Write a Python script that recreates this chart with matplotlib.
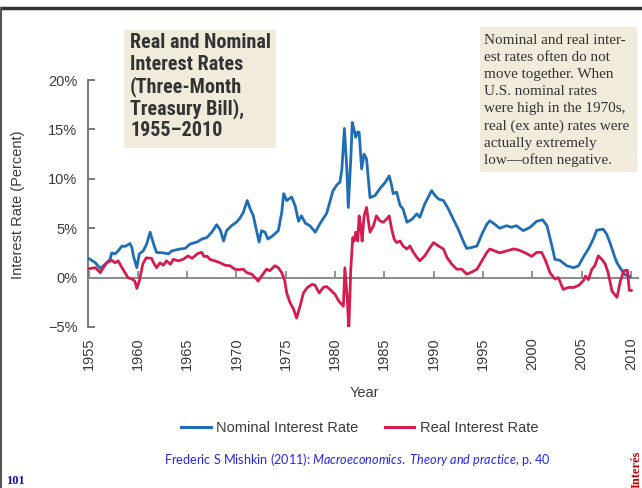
import matplotlib
matplotlib.use("Agg")
import matplotlib.pyplot as plt
from matplotlib.lines import Line2D
from matplotlib.patches import Rectangle
from matplotlib import font_manager
from matplotlib.font_manager import FontProperties

# ---------------- data ----------------
nominal_years = [1955.0, 1955.66, 1956.2, 1956.7, 1957.2, 1957.35, 1957.7, 1958.0, 1958.4, 1958.7,
                 1959.2, 1959.4, 1959.55, 1959.9, 1960.15, 1960.55, 1960.9, 1961.25, 1961.6, 1961.9,
                 1962.6, 1963.1, 1963.45, 1964.3, 1964.8, 1965.3, 1966.0, 1966.5, 1967.0, 1967.5,
                 1968.0, 1968.35, 1968.7, 1969.0, 1969.5, 1970.0, 1970.35, 1970.7, 1971.1, 1971.4,
                 1971.7, 1972.05, 1972.3, 1972.55, 1972.9, 1973.2, 1973.7, 1974.25, 1974.6, 1974.8,
                 1975.1, 1975.6, 1975.95, 1976.3, 1976.6, 1977.0, 1977.45, 1978.0, 1978.5, 1979.15,
                 1979.8, 1980.2, 1980.5, 1980.7, 1980.95, 1981.2, 1981.35, 1981.6, 1981.75, 1981.95,
                 1982.1, 1982.3, 1982.45, 1982.7, 1982.95, 1983.2, 1983.55, 1984.05, 1984.55, 1985.1,
                 1985.5, 1985.75, 1985.9, 1986.25, 1986.6, 1986.9, 1987.3, 1987.8, 1988.3, 1988.6,
                 1989.1, 1989.8, 1990.15, 1990.5, 1991.0, 1991.5, 1992.0, 1992.5, 1993.0, 1993.35,
                 1993.85, 1994.4, 1994.9, 1995.4, 1995.7, 1996.2, 1996.7, 1997.4, 1997.9, 1998.4,
                 1999.1, 1999.8, 2000.45, 2001.05, 2001.5, 2002.0, 2002.3, 2002.8, 2003.5, 2004.2,
                 2004.7, 2005.2, 2005.7, 2006.2, 2006.55, 2007.2, 2007.55, 2007.9, 2008.4, 2008.6,
                 2009.1, 2009.4, 2009.9]
nominal_rate = [1.95, 1.53, 0.92, 1.36, 1.87, 2.5, 2.4, 2.7, 3.2, 3.15,
                3.45, 3.05, 2.2, 1.0, 2.4, 2.7, 3.4, 4.6, 3.4, 2.55,
                2.5, 2.4, 2.7, 2.9, 2.95, 3.4, 3.6, 3.9, 4.05, 4.6,
                5.35, 4.85, 3.7, 4.75, 5.25, 5.6, 6.0, 6.6, 7.8, 6.95,
                6.3, 4.75, 3.6, 4.75, 4.6, 3.9, 4.25, 4.75, 6.6, 8.5,
                7.8, 8.15, 7.3, 5.7, 6.25, 5.5, 5.25, 4.6, 5.5, 6.5,
                8.8, 9.4, 9.65, 11.0, 15.1, 11.0, 7.1, 12.0, 15.7, 14.9,
                14.2, 14.75, 14.7, 11.0, 12.5, 12.0, 8.1, 8.3, 9.0, 9.65,
                10.3, 9.3, 8.5, 8.65, 7.3, 6.95, 5.6, 5.9, 6.45, 6.1,
                7.45, 8.8, 8.3, 7.95, 7.8, 6.95, 5.9, 4.9, 3.7, 2.95,
                3.05, 3.2, 4.4, 5.4, 5.75, 5.4, 5.0, 5.25, 5.1, 5.25,
                4.75, 5.1, 5.7, 5.85, 5.25, 3.2, 1.85, 1.75, 1.2, 1.0,
                1.2, 2.1, 2.9, 3.9, 4.8, 4.9, 4.4, 3.5, 2.0, 1.5,
                0.7, 0.3, 0.1]

real_years = [1955.0, 1955.7, 1956.2, 1956.5, 1956.85, 1957.35, 1957.7, 1958.0, 1958.4, 1958.7,
              1959.0, 1959.4, 1959.7, 1959.9, 1960.15, 1960.5, 1960.85, 1961.4, 1961.6, 1961.9,
              1962.25, 1962.6, 1962.9, 1963.3, 1963.6, 1964.1, 1964.6, 1965.1, 1965.5, 1965.8,
              1966.1, 1966.5, 1966.7, 1967.05, 1967.3, 1967.8, 1968.35, 1968.85, 1969.35, 1969.85,
              1970.2, 1970.7, 1971.05, 1971.55, 1971.9, 1972.2, 1972.55, 1973.05, 1973.4, 1973.9,
              1974.25, 1974.6, 1974.9, 1975.1, 1975.45, 1975.8, 1976.1, 1976.45, 1976.8, 1977.2,
              1977.65, 1977.95, 1978.4, 1978.8, 1979.15, 1979.6, 1980.0, 1980.4, 1980.85, 1981.0,
              1981.25, 1981.4, 1981.6, 1981.8, 1981.95, 1982.1, 1982.3, 1982.45, 1982.6, 1982.75,
              1982.95, 1983.2, 1983.35, 1983.55, 1983.9, 1984.2, 1984.55, 1984.9, 1985.25, 1985.5,
              1985.75, 1986.0, 1986.25, 1986.6, 1986.9, 1987.3, 1987.6, 1987.95, 1988.3, 1988.6,
              1989.1, 1989.65, 1990.0, 1990.5, 1991.0, 1991.35, 1991.85, 1992.35, 1992.85, 1993.35,
              1993.85, 1994.4, 1994.9, 1995.4, 1995.7, 1996.2, 1996.7, 1997.4, 1998.1, 1998.6,
              1999.3, 1999.95, 2000.45, 2000.95, 2001.3, 2001.8, 2002.3, 2002.65, 2003.15, 2003.65,
              2004.2, 2004.7, 2005.2, 2005.4, 2005.7, 2006.05, 2006.35, 2006.7, 2007.05, 2007.4,
              2007.7, 2008.1, 2008.6, 2008.95, 2009.3, 2009.65, 2009.85, 2010.05]
real_rate = [0.9, 1.0, 0.5, 1.0, 1.5, 1.75, 1.5, 1.7, 1.0, 0.5,
             0.0, -0.15, -0.35, -1.1, -0.35, 1.35, 2.0, 1.95, 1.5, 1.0,
             1.5, 1.25, 1.7, 1.35, 1.85, 1.7, 1.85, 2.2, 1.95, 2.2,
             2.45, 2.55, 2.15, 2.15, 1.85, 1.7, 1.5, 1.25, 1.2, 0.85,
             0.8, 0.85, 0.5, 0.35, 0.0, -0.35, 0.15, 0.85, 0.7, 1.2,
             1.0, 0.5, -0.3, -1.55, -2.55, -3.2, -4.1, -2.9, -1.55, -1.0,
             -0.7, -0.75, -1.55, -1.0, -0.9, -1.3, -1.7, -2.4, -2.9, 1.0,
             -2.2, -5.3, 0.85, 4.05, 3.7, 4.6, 3.7, 6.25, 5.25, 3.7,
             6.25, 7.1, 5.95, 4.6, 5.25, 6.25, 5.75, 5.6, 5.95, 6.25,
             4.9, 3.9, 3.55, 3.7, 3.2, 2.9, 3.2, 2.55, 2.05, 1.7,
             2.2, 3.05, 3.55, 3.2, 2.9, 2.05, 1.35, 0.85, 0.85, 0.35,
             0.55, 0.85, 1.7, 2.55, 2.9, 2.7, 2.5, 2.7, 2.9, 2.8,
             2.5, 2.15, 2.55, 2.55, 1.85, 0.5, -0.15, 0.0, -1.2, -1.0,
             -1.0, -0.8, -0.3, 0.15, -0.2, 0.85, 1.2, 2.2, 1.85, 1.4,
             0.5, -1.4, -2.0, -0.3, 0.7, 0.75, -1.3, -1.3]

year_ticks = [1955, 1960, 1965, 1970, 1975, 1980, 1985, 1990, 1995, 2000, 2005, 2010]
rate_ticks = [-5, 0, 5, 10, 15, 20]
rate_tick_labels = ["\u22125%", "0%", "5%", "10%", "15%", "20%"]

series_labels = ["Nominal Interest Rate", "Real Interest Rate"]
title_lines = ["Real and Nominal", "Interest Rates", "(Three-Month", "Treasury Bill),", "1955\u20132010"]
note_lines = ["Nominal and real inter-", "est rates often do not", "move together. When",
              "U.S. nominal rates", "were high in the 1970s,", "real (ex ante) rates were",
              "actually extremely", "low\u2014often negative."]

# ---------------- styling ----------------
W, H = 642, 488
BLUE = "#1f6db4"
RED = "#d41c4f"
TXT = "#3a3a3a"
AXC = "#6e6e6e"

ttf = font_manager.fontManager.ttflist
avail = {f.name for f in ttf}
SANS = "Liberation Sans" if "Liberation Sans" in avail else "DejaVu Sans"
SERIF = "Liberation Serif" if "Liberation Serif" in avail else "DejaVu Serif"
CITE = "Lato" if "Lato" in avail else SANS


def find_condensed_bold():
    def is_bold(f):
        w = f.weight
        if isinstance(w, str):
            return w in ("bold", "heavy", "black", "semibold", "demibold", "extra bold")
        return w >= 600
    prefs = ["Liberation Sans Narrow", "Roboto Condensed", "Open Sans Condensed", "Noto Sans Condensed",
             "DejaVu Sans Condensed", "DejaVu Sans"]
    for name in prefs:
        for f in ttf:
            if f.name == name and is_bold(f) and f.style == "normal":
                if name in ("DejaVu Sans",) and "ondensed" not in f.fname:
                    continue
                return FontProperties(fname=f.fname)
    for f in ttf:
        fn = f.fname.lower()
        if ("condensed" in fn or "narrow" in fn) and is_bold(f) and f.style == "normal" \
                and "serif" not in fn and "mono" not in fn:
            return FontProperties(fname=f.fname)
    return None


COND = find_condensed_bold()

plt.rcParams["font.family"] = [SANS, "DejaVu Sans"]
plt.rcParams["mathtext.fontset"] = "custom"
plt.rcParams["mathtext.it"] = CITE + ":italic"
plt.rcParams["mathtext.rm"] = CITE

fig = plt.figure(figsize=(W / 100, H / 100), dpi=100)


def fx(px):
    return px / W


def fy(py):
    return 1 - py / H


x0, x1 = 88.5, 638.0
y_top, y_bot = 80.0, 327.0
ax = fig.add_axes([fx(x0), fy(y_bot), (x1 - x0) / W, (y_bot - y_top) / H])
ax.set_xlim(1955, 1955 + (x1 - x0) / 9.86)
ax.set_ylim(-5, 20)
ax.patch.set_alpha(0)

ax.plot(nominal_years, nominal_rate, color=BLUE, lw=2.0, solid_joinstyle="round", label=series_labels[0], zorder=3)
ax.plot(real_years, real_rate, color=RED, lw=2.0, solid_joinstyle="round", label=series_labels[1], zorder=3)

for s in ["top", "right"]:
    ax.spines[s].set_visible(False)
ax.spines["bottom"].set_position(("data", 0))
ax.spines["bottom"].set_color("#8a8a8a")
ax.spines["bottom"].set_linewidth(1.4)
ax.spines["left"].set_color(AXC)
ax.spines["left"].set_linewidth(1.3)

ax.set_xticks(year_ticks)
ax.set_xticklabels([str(y) for y in year_ticks], rotation=90, fontsize=10.5, color=TXT, va="top")
ax.tick_params(axis="x", direction="in", length=5, width=1.3, color="#8a8a8a", pad=43)
ax.set_yticks(rate_ticks)
ax.set_yticklabels(rate_tick_labels, fontsize=10.5, color=TXT)
ax.tick_params(axis="y", direction="in", length=5, width=1.3, color=AXC, pad=8)

fig.text(fx(18), fy(205), "Interest Rate (Percent)", rotation=90, ha="center", va="center",
         fontsize=10.5, color=TXT)
fig.text(fx(364), fy(393), "Year", ha="center", va="center", fontsize=10.5, color=TXT)

handles = [Line2D([], [], color=BLUE, lw=2.2), Line2D([], [], color=RED, lw=2.2)]
leg = fig.legend(handles, series_labels, loc="center", bbox_to_anchor=(fx(360), fy(428)), ncol=2,
                 frameon=False, fontsize=10.5, handlelength=2.0, columnspacing=1.8, handletextpad=0.4)
for t in leg.get_texts():
    t.set_color(TXT)

# title box
fig.patches.append(Rectangle((fx(124), fy(148)), (276 - 124) / W, (148 - 30) / H,
                             transform=fig.transFigure, facecolor="#f1ebdc", edgecolor="none", zorder=4))
for i, line in enumerate(title_lines):
    if COND is not None:
        fp = COND.copy()
        fp.set_size(14.5)
        fig.text(fx(130), fy(43 + 22 * i), line, ha="left", va="center", fontproperties=fp,
                 color="#333333", zorder=5)
    else:
        fig.text(fx(130), fy(43 + 22 * i), line, ha="left", va="center", fontsize=12.2,
                 fontweight="bold", family=[SANS, "DejaVu Sans"], color="#333333", zorder=5)

# note box
fig.patches.append(Rectangle((fx(480), fy(172)), (637 - 480) / W, (172 - 27) / H,
                             transform=fig.transFigure, facecolor="#f1ebdc", edgecolor="none", zorder=4))
for i, line in enumerate(note_lines):
    fig.text(fx(484), fy(40 + 17.2 * i), line, ha="left", va="center", fontsize=10.9,
             family=[SERIF, "DejaVu Serif"], color="#333333", zorder=5)

# citation and slide decorations
fig.text(fx(357), fy(460), r"Frederic S Mishkin (2011): $\it{Macroeconomics.\ Theory\ and\ practice}$, p. 40",
         ha="center", va="center", fontsize=9.1, family=[CITE, "DejaVu Sans"], color="#2525e8")
fig.text(fx(6), fy(481), "101", ha="left", va="center", fontsize=9, fontweight="bold",
         family=[SERIF, "DejaVu Serif"], color="#1010c0")
fig.text(fx(637), fy(488), "Interés", rotation=90, ha="center", va="bottom", fontsize=9,
         fontweight="bold", family=[SERIF, "DejaVu Serif"], color="#c00000")

fig.add_artist(Line2D([0, 1], [fy(8), fy(8)], transform=fig.transFigure, color="#333333", lw=2.5))
fig.add_artist(Line2D([fx(1), fx(1)], [fy(8), 0], transform=fig.transFigure, color="#555555", lw=1.5))

fig.savefig("out.png", dpi=100)
